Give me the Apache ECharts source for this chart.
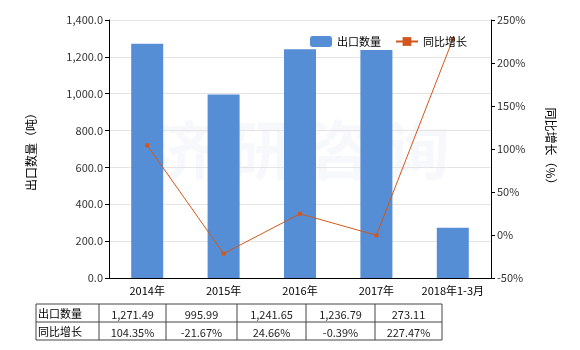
<!DOCTYPE html>
<html><head><meta charset="utf-8">
<script src="https://cdn.jsdelivr.net/npm/echarts@6/dist/echarts.min.js"></script>
<style>html,body{margin:0;padding:0;background:#fff}#c{width:580px;height:350px}</style>
</head><body><div id="c"></div>
<script>
const categories = ['2014年','2015年','2016年','2017年','2018年1-3月'];
const exportQty = [1271.49, 995.99, 1241.65, 1236.79, 273.11];
const growth = [104.35, -21.67, 24.66, -0.39, 227.47];
const seriesNames = ['出口数量','同比增长'];
const leftAxisName = '出口数量（吨）';
const rightAxisName = '同比增长（%）';

const FONT = '"Noto Sans CJK SC", "DejaVu Sans", sans-serif';
const chart = echarts.init(document.getElementById('c'));

function fmt2(v){ return v.toLocaleString('en-US',{minimumFractionDigits:2,maximumFractionDigits:2}); }

// table graphics
const tblX = [36, 99, 166, 237, 306, 375, 442];
const tblY = [304, 322, 340];
const g = [];
g.push({type:'rect', shape:{x:tblX[0], y:tblY[0], width:tblX[6]-tblX[0], height:tblY[2]-tblY[0]}, style:{fill:'none', stroke:'#444', lineWidth:1}});
g.push({type:'line', shape:{x1:tblX[0], y1:tblY[1], x2:tblX[6], y2:tblY[1]}, style:{stroke:'#444', lineWidth:1}});
for (let i=1;i<6;i++) g.push({type:'line', shape:{x1:tblX[i], y1:tblY[0], x2:tblX[i], y2:tblY[2]}, style:{stroke:'#444', lineWidth:1}});
const rows = [exportQty.map(fmt2), growth.map(v=>v.toFixed(2)+'%')];
rows.forEach((r,ri)=>{
  const cy = (tblY[ri]+tblY[ri+1])/2 + 1;
  g.push({type:'text', x:tblX[0]+2, y:cy, style:{text:seriesNames[ri], fill:'#000', font:'11px '+FONT, textVerticalAlign:'middle', textAlign:'left'}});
  r.forEach((t,ci)=>{
    g.push({type:'text', x:(tblX[ci+1]+tblX[ci+2])/2, y:cy+1, style:{text:t, fill:'#222', font:'11px '+FONT, textVerticalAlign:'middle', textAlign:'center'}});
  });
});
// watermark
g.push({type:'text', x:300, y:150, style:{text:'济 研 咨 询', fill:'rgba(200,210,225,0.15)', font:'bold 64px '+FONT, textAlign:'center', textVerticalAlign:'middle'}, z:-1});

chart.setOption({
  animation:false,
  textStyle:{fontFamily:FONT},
  grid:{left:109, right:89, top:20, bottom:72},
  legend:{
    top:31, left:305, itemWidth:22, itemHeight:11, itemGap:14,
    textStyle:{fontSize:11, color:'#000', fontFamily:FONT},
    data:[{name:seriesNames[0]},{name:seriesNames[1]}]
  },
  xAxis:{
    type:'category', data:categories,
    axisLine:{lineStyle:{color:'#000'}},
    axisTick:{show:false},
    axisLabel:{color:'#000', fontSize:11, margin:7, interval:0}
  },
  yAxis:[{
    type:'value', min:0, max:1400, interval:200,
    name:leftAxisName, nameLocation:'middle', nameGap:72, nameRotate:90,
    nameTextStyle:{color:'#000', fontSize:12},
    axisLine:{show:true, lineStyle:{color:'#000'}},
    axisTick:{show:true, length:4, lineStyle:{color:'#000'}},
    axisLabel:{color:'#333', fontSize:11, margin:6, formatter:v=>v.toLocaleString('en-US',{minimumFractionDigits:1,maximumFractionDigits:1})},
    splitLine:{lineStyle:{color:'#e4e4e4'}}
  },{
    type:'value', min:-50, max:250, interval:50,
    name:rightAxisName, nameLocation:'middle', nameGap:54, nameRotate:-90,
    nameTextStyle:{color:'#000', fontSize:12},
    axisLine:{show:true, lineStyle:{color:'#000'}},
    axisTick:{show:true, length:4, lineStyle:{color:'#000'}},
    axisLabel:{color:'#333', fontSize:11, margin:6, formatter:'{value}%'},
    splitLine:{show:false}
  }],
  series:[{
    name:seriesNames[0], type:'bar', data:exportQty, barWidth:32,
    itemStyle:{color:'#558ED5'}
  },{
    name:seriesNames[1], type:'line', yAxisIndex:1, data:growth,
    symbol:'rect', symbolSize:4,
    lineStyle:{color:'#D2571B', width:1},
    itemStyle:{color:'#D2571B'}
  }],
  graphic:g
});
</script></body></html>
